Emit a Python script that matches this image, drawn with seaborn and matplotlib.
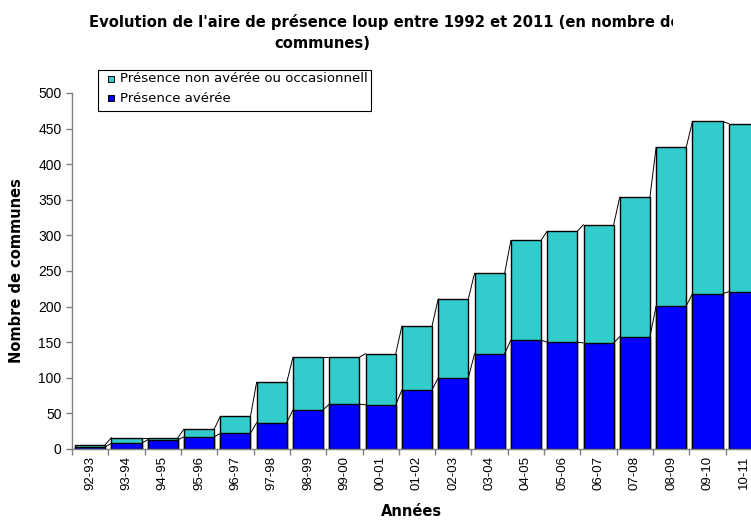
import matplotlib
matplotlib.use("Agg")
import matplotlib.pyplot as plt
import seaborn as sns
from matplotlib.patches import Rectangle
from matplotlib.transforms import Bbox, TransformedBbox

# Données (nombre de communes)
annees = ["92-93", "93-94", "94-95", "95-96", "96-97", "97-98", "98-99", "99-00",
          "00-01", "01-02", "02-03", "03-04", "04-05", "05-06", "06-07", "07-08",
          "08-09", "09-10", "10-11"]
presence_averee = [3, 8, 13, 17, 22, 37, 55, 63, 62, 83, 100, 134, 153, 150, 149, 158, 201, 218, 221]
presence_non_averee = [3, 8, 3, 11, 24, 57, 74, 66, 72, 90, 111, 113, 140, 156, 166, 196, 223, 242, 236]
totaux = [a + b for a, b in zip(presence_averee, presence_non_averee)]
series = ["Présence non avérée ou occasionnell", "Présence avérée"]
couleurs = ["#33CCCC", "#0000FF"]

sns.set_style("white")
plt.rcParams['font.family'] = ['Liberation Sans', 'DejaVu Sans']
plt.rcParams['text.color'] = "black"
plt.rcParams['axes.labelcolor'] = "black"
gras = ['DejaVu Sans']

W, H = 751, 520
fig = plt.figure(figsize=(W / 100, H / 100), dpi=100)
ax = fig.add_axes([72 / W, 1 - 449 / H, (762 - 72) / W, (449 - 93) / H])

largeur = 0.83
sns.barplot(x=annees, y=totaux, color=couleurs[0], saturation=1, width=largeur,
            edgecolor="black", linewidth=1, ax=ax)
sns.barplot(x=annees, y=presence_averee, color=couleurs[1], saturation=1, width=largeur,
            edgecolor="black", linewidth=1, ax=ax)

# lignes de série (style Excel)
for serie in (totaux, presence_averee):
    for i in range(len(annees) - 1):
        ax.plot([i + largeur / 2, i + 1 - largeur / 2], [serie[i], serie[i + 1]],
                color="black", lw=0.7, zorder=3)

ax.set_xlim(-0.5, len(annees) - 0.5)
ax.set_ylim(0, 500)
ax.set_yticks(range(0, 501, 50))
ax.tick_params(axis="y", labelsize=10, length=4, width=1, color="#808080", labelcolor="black",
               direction="out", left=True)
ax.tick_params(axis="x", which="major", labelsize=9.5, length=0, rotation=90, pad=5, labelcolor="black")
ax.set_xticks([i - 0.5 for i in range(len(annees) + 1)], minor=True)
ax.tick_params(axis="x", which="minor", length=4, width=1, color="#808080", direction="out", bottom=True)
for s in ("top", "right"):
    ax.spines[s].set_visible(False)
for s in ("left", "bottom"):
    ax.spines[s].set_color("#808080")
    ax.spines[s].set_linewidth(1)

ax.set_xlabel("Années", fontsize=10.5, fontweight="bold", family=gras)
ax.xaxis.set_label_coords((411 - 72) / 690, -(511 - 449) / 356)
ax.xaxis.label.set_va("center")
ax.set_ylabel("Nombre de communes", fontsize=10.5, fontweight="bold", family=gras)
ax.yaxis.set_label_coords(-(72 - 17) / 690, 0.5)
ax.yaxis.label.set_va("center")

# titre (tronqué à droite comme sur l'original)
t1 = fig.text(89 / W, 1 - 27 / H, "Evolution de l'aire de présence loup entre 1992 et 2011 (en nombre de",
              fontsize=10.6, fontweight="bold", family=gras, ha="left", va="baseline")
t1.set_clip_box(TransformedBbox(Bbox.from_extents(0, 0, 673 / W, 1), fig.transFigure))
t1.set_clip_on(True)
fig.text(322 / W, 1 - 48 / H, "communes)", fontsize=10.6, fontweight="bold", family=gras,
         ha="center", va="baseline")

# légende (cadre fixe, texte coupé au bord comme sur l'original)
fig.patches.append(Rectangle((97.5 / W, 1 - 111 / H), (371 - 97.5) / W, 41 / H,
                             transform=fig.transFigure, facecolor="white", edgecolor="black", lw=0.8))
clip_leg = TransformedBbox(Bbox.from_extents(0, 0, 369 / W, 1), fig.transFigure)
for k, (nom, coul) in enumerate(zip(series, couleurs)):
    yc = 79 + 19 * k
    fig.patches.append(Rectangle((108 / W, 1 - (yc + 3) / H), 6 / W, 6 / H, transform=fig.transFigure,
                                 facecolor=coul, edgecolor="black", lw=0.7))
    t = fig.text(120 / W, 1 - yc / H, nom, fontsize=9.5, family=gras, ha="left", va="center")
    t.set_clip_box(clip_leg)
    t.set_clip_on(True)

fig.savefig("out.png", dpi=100)
